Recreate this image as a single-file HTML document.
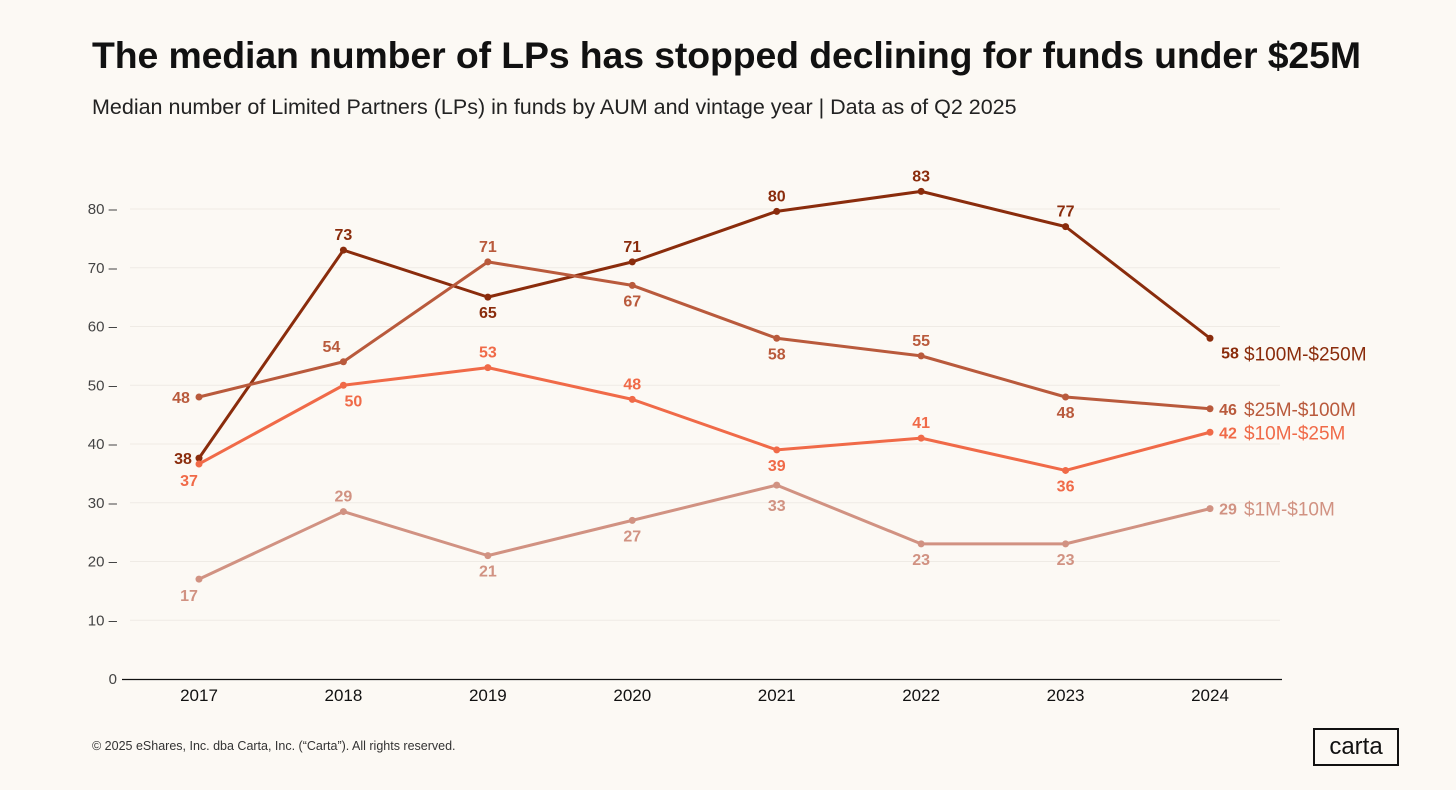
<!DOCTYPE html>
<html><head><meta charset="utf-8"><style>
body{margin:0;background:#fcf9f4;font-family:"Liberation Sans",sans-serif;}
#wrap{position:relative;width:1456px;height:790px;overflow:hidden;background:#fcf9f4;}
h1{position:absolute;left:92px;top:34px;margin:0;font-size:37.4px;font-weight:bold;color:#111;letter-spacing:-0.1px;}
.sub{position:absolute;left:92px;top:95px;font-size:21.5px;color:#222;}
.foot{position:absolute;left:92px;top:739px;font-size:12.5px;color:#333;}
.logo{position:absolute;left:1313px;top:728px;width:82px;height:34px;border:2px solid #111;font-size:24px;line-height:33px;text-align:center;color:#111;}
</style></head><body>
<div id="wrap">
<h1>The median number of LPs has stopped declining for funds under $25M</h1>
<div class="sub">Median number of Limited Partners (LPs) in funds by AUM and vintage year | Data as of Q2 2025</div>
<svg id="chart" width="1456" height="790" style="position:absolute;left:0;top:0"></svg>
<div class="foot">© 2025 eShares, Inc. dba Carta, Inc. (“Carta”). All rights reserved.</div>
<div class="logo">carta</div>
</div>
<script>
const years=["2017","2018","2019","2020","2021","2022","2023","2024"];
const yTicks=[0,10,20,30,40,50,60,70,80];
const seriesNames=["$100M-$250M","$25M-$100M","$10M-$25M","$1M-$10M"];
const s100=[37.6,73,65,71,79.6,83,77,58];
const s25=[48,54,71,67,58,55,48,46];
const s10=[36.6,50,53,47.6,39,41,35.5,42];
const s1=[17,28.5,21,27,33,23,23,29];
const pointLabels=[[38,73,65,71,80,83,77,58],[48,54,71,67,58,55,48,46],[37,50,53,48,39,41,36,42],[17,29,21,27,33,23,23,29]];
const seriesData=[s100,s25,s10,s1];
const colors=["#8a2c0c","#b95a3c","#f06a48","#d19282"];
// label placement offsets (layout, not data)
const offs=[
 [[-16,6],[0,-10],[0,21],[0,-10],[0,-10],[0,-10],[0,-10],[20,20]],
 [[-18,6],[-12,-10],[0,-10],[0,21],[0,21],[0,-10],[0,21],[18,6]],
 [[-10,22],[10,21],[0,-10],[0,-10],[0,21],[0,-10],[0,21],[18,6]],
 [[-10,22],[0,-10],[0,21],[0,21],[0,26],[0,21],[0,21],[18,6]]];
const x=i=>199+i*(1210-199)/7;
const y=v=>679-v*(679-209)/80;
const svg=document.getElementById('chart');
const NS='http://www.w3.org/2000/svg';
function mk(t,a){const e=document.createElementNS(NS,t);for(const k in a)e.setAttribute(k,a[k]);svg.appendChild(e);return e;}
yTicks.forEach(t=>{
 if(t>0){const g=mk('line',{x1:130,x2:1280,y1:y(t),y2:y(t),stroke:'#efebe5','stroke-width':1});
 
 }
 const tx=mk('text',{x:117,y:y(t)+5,'text-anchor':'end','font-size':15,fill:'#444','font-family':'Liberation Sans'});
 tx.textContent=t+(t>0?' –':'');
 
 
});
const base=mk('line',{x1:122,x2:1282,y1:679.5,y2:679.5,stroke:'#111','stroke-width':1.3});


years.forEach((yr,i)=>{
 const t=mk('text',{x:x(i),y:701,'text-anchor':'middle','font-size':17,fill:'#111','font-family':'Liberation Sans'});
 t.textContent=yr;
 
 
});
seriesData.forEach((d,si)=>{
 const c=colors[si];
 const p=mk('polyline',{points:d.map((v,i)=>x(i)+','+y(v)).join(' '),fill:'none',stroke:c,'stroke-width':3,'stroke-linejoin':'round'});
 
 
 d.forEach((v,i)=>{
  const dot=mk('circle',{cx:x(i),cy:y(v),r:3.5,fill:c});
  
  
  const o=offs[si][i];
  const t=mk('text',{x:x(i)+o[0],y:y(v)+o[1],'text-anchor':'middle','font-size':16,'font-weight':'bold',fill:c,'font-family':'Liberation Sans'});
  t.textContent=pointLabels[si][i];
  
  
 });
 const last=d[d.length-1];
 const ly=si==0?y(last)+22:y(last)+7;
 const n=mk('text',{x:1244,y:ly,'font-size':19,fill:c,'font-family':'Liberation Sans'});
 n.textContent=seriesNames[si];
 
 
});
</script>
</body></html>
